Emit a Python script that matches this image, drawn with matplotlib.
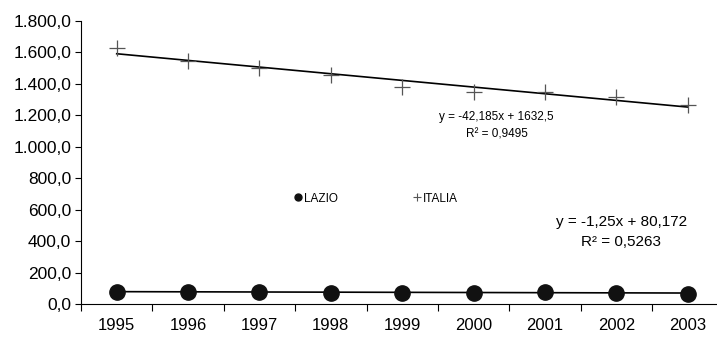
import matplotlib
matplotlib.use("Agg")
import matplotlib.pyplot as plt
from matplotlib.lines import Line2D
import numpy as np

plt.rcParams['font.family'] = ['Liberation Sans', 'DejaVu Sans']

years = ['1995', '1996', '1997', '1998', '1999', '2000', '2001', '2002', '2003']
lazio = [78, 78, 78, 72, 72, 72, 78, 72, 66]
italia = [1626, 1548, 1503, 1457, 1378, 1350, 1346, 1318, 1268]
yticks = [0, 200, 400, 600, 800, 1000, 1200, 1400, 1600, 1800]


def fmt_it(v):
    s = f"{v:,.1f}"
    return s.replace(",", "X").replace(".", ",").replace("X", ".")


fig = plt.figure(figsize=(7.17, 3.37), dpi=100)
ax = fig.add_axes([0.113, 0.098, 0.896, 0.840])

x = np.arange(len(years))

# trend lines (linear fit)
for vals in (lazio, italia):
    k, b = np.polyfit(x, vals, 1)
    ax.plot(x, k * x + b, color='black', lw=1.2, zorder=2)

ax.plot(x, lazio, 'o', color='#111111', ms=11, ls='none', zorder=3)
ax.plot(x, italia, '+', color='#555555', ms=11, mew=0.9, ls='none', zorder=3)

ax.set_xlim(-0.5, len(years) - 0.5)
ax.set_ylim(0, 1800)
ax.set_xticks(np.arange(len(years) + 1) - 0.5)
ax.set_xticklabels([])
ax.set_xticks(x, minor=True)
ax.set_xticklabels(years, minor=True)
ax.tick_params(axis='x', which='minor', length=0, labelsize=12, pad=10)
ax.tick_params(axis='x', which='major', length=5, direction='out')
ax.set_yticks(yticks)
ax.set_yticklabels([fmt_it(v) for v in yticks])
ax.tick_params(axis='y', length=4, direction='out', labelsize=12.5, pad=3)

for s in ('top', 'right'):
    ax.spines[s].set_visible(False)
for s in ('left', 'bottom'):
    ax.spines[s].set_linewidth(0.8)

# trend equations
ax.text(5.32, 1190, "y = -42,185x + 1632,5", fontsize=8.5, ha='center', va='center')
ax.text(5.32, 1080, "R² = 0,9495", fontsize=8.5, ha='center', va='center')
ax.text(7.07, 522, "y = -1,25x + 80,172", fontsize=11, ha='center', va='center')
ax.text(7.07, 394, "R² = 0,5263", fontsize=11, ha='center', va='center')

handles = [
    Line2D([], [], marker='o', color='#111111', ls='none', ms=5),
    Line2D([], [], marker='+', color='#555555', ls='none', ms=6, mew=0.8),
]
ax.legend(handles, ['LAZIO', 'ITALIA'], ncol=2, frameon=False, fontsize=8.5,
          handlelength=0.5, handletextpad=0.3, columnspacing=6.4,
          loc='center', bbox_to_anchor=(3.64, 670), bbox_transform=ax.transData)

fig.savefig('out.png', dpi=100)
